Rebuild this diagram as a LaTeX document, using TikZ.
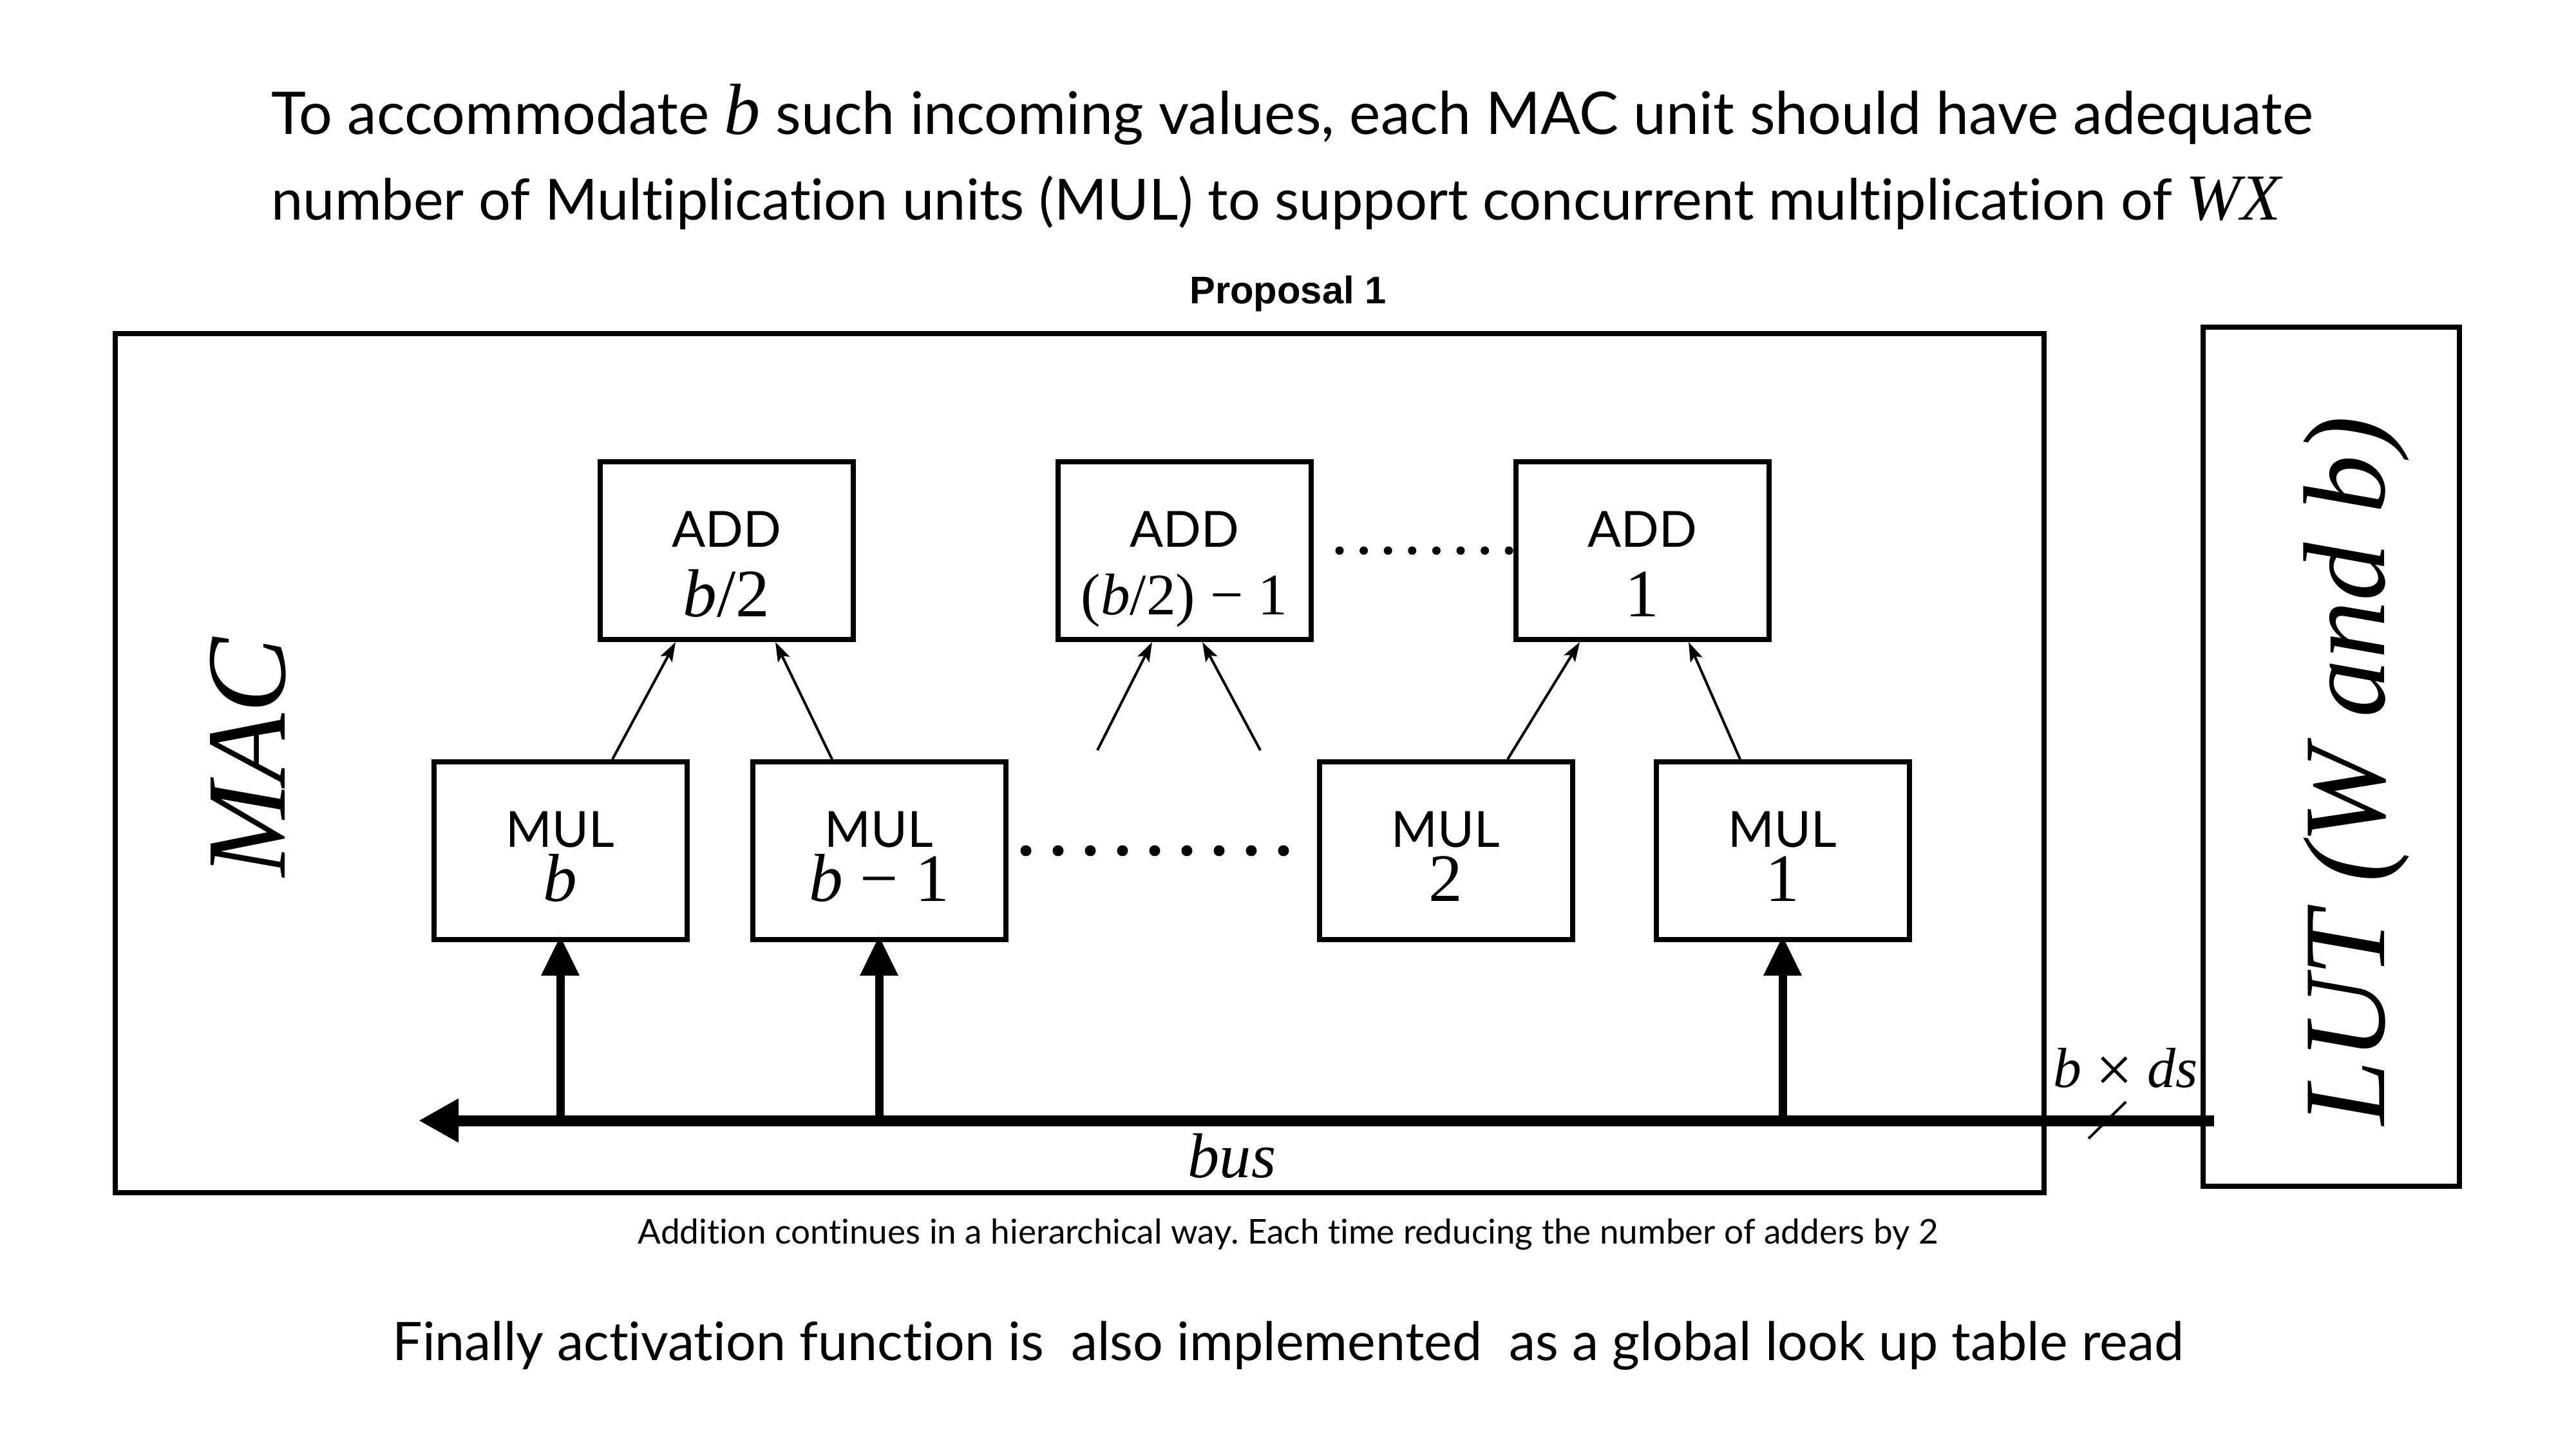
\documentclass[tikz,border=0pt]{standalone}
\usepackage{fontspec}
\setmainfont[Ligatures=NoCommon]{Lato}
\newfontfamily\tms{Liberation Serif}
\newfontfamily\hlv{Liberation Sans}
\usetikzlibrary{arrows.meta}
\frenchspacing
\begin{document}
\begin{tikzpicture}[x=1cm,y=1cm]
\tikzset{
  unitbox/.style={draw, line width=0.08cm, minimum width=3.93cm, minimum height=2.76cm, inner sep=0},
  bigbox/.style={draw, line width=0.08cm, inner sep=0},
  lbl/.style={inner sep=0, anchor=base},
  sanslbl/.style={lbl, font=\fontsize{22}{26}\selectfont},
  mathlbl/.style={lbl, font=\tms\fontsize{30}{34}\selectfont},
  uparrow/.style={line width=0.04cm, -{Stealth[length=0.3cm,width=0.2cm,inset=0.06cm]}},
  feed/.style={line width=0.13cm, -{Triangle[length=0.62cm,width=0.56cm]}},
  dotbig/.style={fill, circle, inner sep=0, minimum size=0.17cm},
  dotsmall/.style={fill, circle, inner sep=0, minimum size=0.13cm},
}
\useasboundingbox (0,0) rectangle (40,-22.5);

% title
\node[anchor=base west, inner sep=0] (t1) at (4.21,-2.09)
  {\fontsize{26}{30}\selectfont To accommodate {\tms\itshape\fontsize{32}{30}\selectfont b} such incoming values, each MAC unit should have adequate};
\node[anchor=base west, inner sep=0] (t2) at (4.21,-3.42)
  {\fontsize{25.1}{30}\selectfont number of Multiplication units (MUL) to support concurrent multiplication of {\tms\itshape\fontsize{29}{30}\selectfont WX}};
\node[lbl] (prop) at (20.00,-4.72) {\hlv\bfseries\fontsize{17}{20}\selectfont Proposal 1};

% outer boxes
\node[bigbox, minimum width=29.95cm, minimum height=13.34cm] (mac) at (16.765,-11.85) {};
\node[bigbox, minimum width=3.98cm, minimum height=13.34cm] (lut) at (36.20,-11.75) {};
\node[lbl, rotate=90] (maclbl) at (4.42,-11.76) {\tms\itshape\fontsize{50}{60}\selectfont MAC};
\node[lbl, rotate=90] (lutlbl) at (37.02,-11.97) {\tms\itshape\fontsize{51.5}{60}\selectfont LUT (W and b)};

% adders
\node[unitbox] (add1) at (11.28,-8.55) {};
\node[unitbox] (add2) at (18.39,-8.55) {};
\node[unitbox] (add3) at (25.50,-8.55) {};
\node[sanslbl] (add1a) at (11.28,-8.50) {ADD};
\node[mathlbl] (add1b) at (11.28,-9.58) {\itshape b\upshape/2};
\node[sanslbl] (add2a) at (18.39,-8.50) {ADD};
\node[mathlbl, font=\tms\fontsize{26}{30}\selectfont] (add2b) at (18.39,-9.55) {(\itshape b\upshape/2) − 1};
\node[sanslbl] (add3a) at (25.50,-8.50) {ADD};
\node[mathlbl] (add3b) at (25.50,-9.58) {1};

% multipliers
\node[unitbox] (mulb) at (8.70,-13.21) {};
\node[unitbox] (mulc) at (13.65,-13.21) {};
\node[unitbox] (mul2) at (22.45,-13.21) {};
\node[unitbox] (mul1) at (27.68,-13.21) {};
\node[sanslbl] (mulba) at (8.70,-13.16) {MUL};
\node[mathlbl] (mulbb) at (8.70,-14.00) {\itshape b};
\node[sanslbl] (mulca) at (13.65,-13.16) {MUL};
\node[mathlbl] (mulcb) at (13.65,-14.00) {\itshape b \upshape− 1};
\node[sanslbl] (mul2a) at (22.45,-13.16) {MUL};
\node[mathlbl] (mul2b) at (22.45,-14.00) {2};
\node[sanslbl] (mul1a) at (27.68,-13.16) {MUL};
\node[mathlbl] (mul1b) at (27.68,-14.00) {1};

% dots
\foreach \i in {0,...,8} { \node[dotbig] (md\i) at (15.93+0.5*\i,-13.21) {}; }
\foreach \i in {0,...,7} { \node[dotsmall] (ad\i) at (20.80+0.376*\i,-8.55) {}; }

% adder inputs
\draw[uparrow] ([xshift=0.81cm]mulb.north) -- ([xshift=-0.79cm]add1.south);
\draw[uparrow] ([xshift=-0.73cm]mulc.north) -- ([xshift=0.76cm]add1.south);
\coordinate (d1) at (17.04,-11.65);
\coordinate (d2) at (19.57,-11.65);
\draw[uparrow] (d1) -- ([xshift=-0.5cm]add2.south);
\draw[uparrow] (d2) -- ([xshift=0.28cm]add2.south);
\draw[uparrow] ([xshift=0.96cm]mul2.north) -- ([xshift=-0.97cm]add3.south);
\draw[uparrow] ([xshift=-0.66cm]mul1.north) -- ([xshift=0.72cm]add3.south);

% bus
\coordinate (busR) at ([xshift=0.21cm]lut.west |- 0,-17.40);
\coordinate (busL) at (6.50,-17.40);
\draw[line width=0.17cm, -{Triangle[length=0.62cm,width=0.64cm]}] (busR) -- (busL);
\draw[feed] (mulb |- busL) -- ([yshift=0.1cm]mulb.south);
\draw[feed] (mulc |- busL) -- ([yshift=0.1cm]mulc.south);
\draw[feed] (mul1 |- busL) -- ([yshift=0.1cm]mul1.south);
\coordinate (tickA) at (32.43,-17.68);
\coordinate (tickB) at (33.01,-17.11);
\draw[line width=0.04cm] (tickA) -- (tickB);
\node[anchor=base west, inner sep=0] (bw) at (31.88,-16.88) {\tms\fontsize{25}{30}\selectfont\itshape b \upshape\raisebox{-0.09em}{\fontsize{29}{30}\selectfont×} \itshape ds};
\node[lbl] (buslbl) at (19.13,-18.28) {\tms\itshape\fontsize{28}{32}\selectfont bus};

% notes
\node[lbl] (note1) at (20.00,-19.31) {\fontsize{15.1}{18}\selectfont Addition continues in a hierarchical way. Each time reducing the number of adders by 2};
\node[lbl] (note2) at (20.00,-21.12) {\fontsize{23.5}{28}\selectfont Finally activation function is~ also implemented~ as a global look up table read};
\end{tikzpicture}
\end{document}
